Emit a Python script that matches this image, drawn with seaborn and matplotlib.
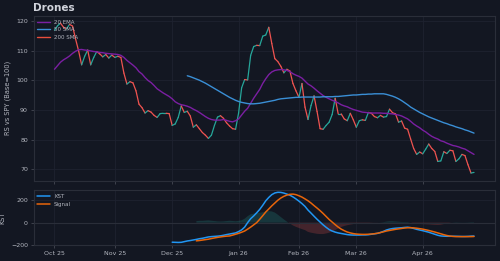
import numpy as np
import pandas as pd
import seaborn as sns
import matplotlib.pyplot as plt

# trading sessions shown on the chart
sessions = pd.bdate_range("2025-10-06", "2026-04-27", freq="C",
                          holidays=["2025-11-27", "2025-12-25", "2026-01-01",
                                    "2026-01-19", "2026-02-16", "2026-04-03"])

rs_line = [117.0, 118.5, 119.4, 118.0, 117.5, 119.0, 118.4, 114.0, 110.0, 105.3,
           108.2, 110.3, 105.3, 107.8, 109.8, 109.0, 108.0, 108.8, 107.6, 108.6,
           107.8, 108.2, 107.8, 102.5, 98.8, 99.6, 99.2, 96.5, 92.0, 90.8,
           89.0, 89.8, 89.3, 88.2, 87.5, 88.8, 88.9, 88.9, 88.8, 84.8,
           85.3, 87.5, 91.4, 89.2, 89.6, 88.0, 84.2, 85.0, 83.7, 82.4,
           81.5, 80.4, 81.5, 84.8, 87.6, 88.1, 87.2, 85.7, 84.6, 83.7,
           83.5, 89.0, 97.5, 100.3, 100.2, 108.5, 111.5, 111.9, 111.8, 115.0,
           115.4, 118.0, 112.5, 107.4, 106.4, 104.8, 102.6, 103.8, 103.2, 99.0,
           96.5, 94.3, 99.0, 91.0, 86.8, 91.5, 94.8, 89.5, 83.7, 83.5,
           84.8, 85.9, 88.5, 94.0, 88.7, 88.7, 87.0, 86.4, 88.9, 86.7,
           84.2, 86.4, 86.7, 86.5, 89.2, 88.9, 87.8, 87.4, 88.2, 87.6,
           87.8, 90.3, 89.1, 88.7, 85.9, 86.3, 83.9, 83.5, 80.2, 77.0,
           75.0, 75.8, 75.2, 76.8, 78.5, 77.0, 76.0, 72.6, 72.8, 75.9,
           75.3, 76.4, 76.2, 72.6, 73.5, 75.0, 74.6, 71.5, 68.7, 68.9]

ema20 = [103.8, 105.0, 106.2, 107.0, 107.6, 108.3, 109.2, 109.9, 110.4, 110.5,
         110.3, 110.2, 110.0, 109.8, 109.7, 109.5, 109.4, 109.2, 109.1, 109.0,
         108.9, 108.8, 108.5, 107.8, 106.8, 106.0, 105.2, 104.3, 103.0, 102.2,
         101.0, 100.0, 99.3, 98.3, 97.2, 96.5, 95.8, 95.2, 94.6, 93.8,
         92.8, 92.2, 91.8, 91.6, 91.3, 90.9, 90.3, 89.8, 89.2, 88.5,
         87.8, 87.2, 86.8, 86.6, 86.6, 86.6, 86.8, 86.5, 86.2, 86.0,
         86.4, 87.0, 88.3, 89.6, 90.6, 92.3, 94.0, 95.5, 97.0, 99.0,
         100.6, 102.0, 102.9, 103.4, 103.6, 103.7, 103.6, 103.4, 103.0, 102.3,
         101.8, 101.4, 100.8, 99.8, 98.8, 98.2, 97.4, 96.5, 95.7, 94.9,
         94.3, 93.8, 93.3, 92.9, 92.4, 91.8, 91.4, 91.1, 90.6, 90.2,
         89.9, 89.6, 89.3, 89.2, 89.1, 89.0, 89.0, 89.0, 89.0, 88.9,
         88.9, 88.8, 88.7, 88.5, 88.3, 88.0, 87.5, 87.0, 86.2, 85.3,
         84.6, 84.0, 83.2, 82.6, 81.8, 81.1, 80.6, 80.2, 79.6, 79.3,
         78.8, 78.4, 78.0, 77.8, 77.5, 77.1, 76.8, 76.2, 75.6, 75.0]

# 50 SMA only exists from the 45th session on
sma50 = [np.nan] * 44 + [
    101.6, 101.3, 100.9, 100.5, 100.1, 99.6, 99.1, 98.5, 97.9, 97.3,
    96.7, 96.1, 95.5, 94.9, 94.3, 93.8, 93.3, 92.9, 92.6, 92.4,
    92.2, 92.1, 92.1, 92.2, 92.3, 92.5, 92.7, 92.9, 93.1, 93.3,
    93.6, 93.8, 93.9, 94.0, 94.1, 94.2, 94.3, 94.3, 94.4, 94.4,
    94.4, 94.4, 94.4, 94.4, 94.4, 94.5, 94.5, 94.5, 94.5, 94.6,
    94.6, 94.7, 94.8, 94.9, 95.0, 95.1, 95.1, 95.2, 95.3, 95.3,
    95.4, 95.4, 95.5, 95.5, 95.5, 95.5, 95.3, 95.0, 94.7, 94.3,
    93.8, 93.2, 92.5, 91.8, 91.0, 90.4, 89.8, 89.2, 88.7, 88.2,
    87.7, 87.3, 86.9, 86.5, 86.1, 85.7, 85.4, 85.0, 84.7, 84.3,
    84.0, 83.7, 83.3, 83.0, 82.6, 82.2]

kst = [np.nan] * 39 + [
    -175, -176, -177, -176, -170, -164, -160, -155, -150, -144,
    -140, -134, -128, -125, -123, -121, -118, -113, -107, -102,
    -97, -92, -80, -65, -40, 0, 35, 60, 88, 118,
    155, 195, 225, 250, 265, 271, 270, 264, 255, 245,
    230, 212, 192, 170, 145, 112, 85, 57, 30, 5,
    -20, -42, -62, -75, -85, -92, -97, -102, -107, -110,
    -111, -111, -111, -110, -110, -108, -104, -100, -96, -88,
    -78, -66, -58, -53, -50, -48, -46, -43, -41, -45,
    -52, -60, -66, -72, -79, -86, -95, -104, -113, -119,
    -121, -122, -122, -122, -122, -123, -124, -124, -123, -121,
    -120]

kst_signal = [np.nan] * 47 + [
    -163, -160, -156, -152, -148, -142, -137, -132, -128, -124,
    -121, -119, -112, -104, -96, -86, -75, -58, -40, -20,
    0, 30, 62, 95, 122, 150, 175, 200, 220, 235,
    246, 253, 255, 250, 240, 228, 212, 195, 175, 152,
    130, 107, 82, 55, 28, 5, -18, -40, -58, -72,
    -84, -92, -98, -102, -104, -105, -105, -104, -102, -99,
    -95, -89, -82, -75, -70, -65, -60, -56, -52, -48,
    -46, -45, -47, -50, -54, -58, -64, -70, -77, -84,
    -92, -100, -108, -115, -120, -123, -125, -125, -125, -125,
    -125, -125, -124]

bg = "#131722"
grid_c = "#1e2230"
spine_c = "#2a2e39"
text_c = "#b2b5be"
up_c, down_c = "#26a69a", "#ef5350"

sns.set_theme(style="dark", rc={
    "figure.facecolor": bg, "axes.facecolor": bg, "axes.edgecolor": spine_c,
    "axes.labelcolor": text_c, "xtick.color": text_c, "ytick.color": text_c,
    "text.color": text_c, "grid.color": grid_c, "axes.grid": True,
    "xtick.bottom": True, "ytick.left": True,
})
plt.rcParams["font.family"] = ["DejaVu Sans"]

x = np.arange(len(sessions))
df = pd.DataFrame({"x": x, "rs": rs_line, "ema": ema20, "sma": sma50,
                   "kst": kst, "sig": kst_signal})

fig, (ax, ax2) = plt.subplots(2, 1, figsize=(5, 2.61), dpi=100, sharex=True,
                              gridspec_kw={"height_ratios": [3, 1]})
fig.subplots_adjust(left=0.067, right=0.99, top=0.94, bottom=0.06, hspace=0.09)

# RS line coloured by direction
for i in range(len(df) - 1):
    c = up_c if rs_line[i + 1] >= rs_line[i] else down_c
    ax.plot(x[i:i + 2], rs_line[i:i + 2], color=c, lw=0.9, solid_capstyle="round")

sns.lineplot(data=df, x="x", y="ema", ax=ax, color="#7b1fa2", lw=1.0, label="20 EMA")
sns.lineplot(data=df.dropna(subset=["sma"]), x="x", y="sma", ax=ax, color="#3a8fd6",
             lw=1.0, label="50 SMA")
ax.plot([], [], color="#e84e3c", lw=1.0, label="200 SMA")

ax.set_title("Drones", loc="left", fontsize=7.5, fontweight="bold", color="#d1d4dc", pad=3)
ax.set_ylabel("RS vs SPY (Base=100)", fontsize=4.8)
ax.set_xlabel("")
ax.set_yticks([70, 80, 90, 100, 110, 120])
ax.legend(loc="upper left", fontsize=4, frameon=False, handlelength=2.2,
          labelcolor=text_c, borderaxespad=0.3)

# KST panel
diff = df["kst"] - df["sig"]
ax2.fill_between(x, 0, diff, where=diff >= 0, color=up_c, alpha=0.22, lw=0, interpolate=True)
ax2.fill_between(x, 0, diff, where=diff < 0, color=down_c, alpha=0.22, lw=0, interpolate=True)
ax2.axhline(0, color=spine_c, lw=0.8)
sns.lineplot(data=df.dropna(subset=["kst"]), x="x", y="kst", ax=ax2, color="#2196f3",
             lw=1.1, label="KST")
sns.lineplot(data=df.dropna(subset=["sig"]), x="x", y="sig", ax=ax2, color="#e8650a",
             lw=1.1, label="Signal")
ax2.set_ylabel("KST", fontsize=4.8)
ax2.set_xlabel("")
ax2.set_yticks([-200, 0, 200])
ax2.set_ylim(-203, 288)
ax2.legend(loc="upper left", fontsize=4, frameon=False, handlelength=2.2,
           labelcolor=text_c, borderaxespad=0.3)

# ticks at first session of every month
months = pd.Series(sessions).dt.to_period("M")
first = np.flatnonzero(months.ne(months.shift()).to_numpy())
ax2.set_xticks(x[first])
ax2.set_xticklabels([sessions[j].strftime("%b %y") for j in first])

for a in (ax, ax2):
    a.tick_params(labelsize=4.5, length=2, width=0.5, color="#50535e", pad=2)
    a.grid(True, color=grid_c, lw=0.6)
    for s in a.spines.values():
        s.set_color(spine_c)
        s.set_linewidth(0.8)

fig.savefig("out.png", dpi=100, facecolor=bg)
